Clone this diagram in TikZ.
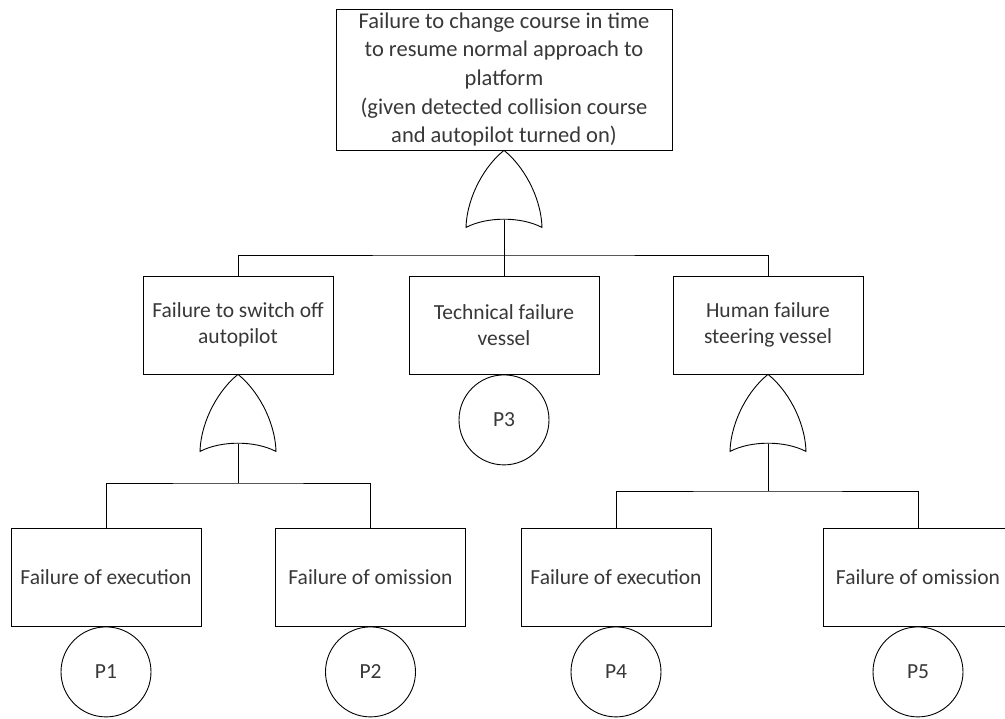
\documentclass[tikz,border=0pt]{standalone}
\usepackage{fontspec}
\setmainfont{Carlito}
\begin{document}
\begin{tikzpicture}[x=1pt,y=-1pt,
  line width=0.9pt,
  box/.style={draw, minimum width=190pt, minimum height=98pt, inner sep=0pt, align=center,
    font=\fontsize{21.5}{26.5}\selectfont, text=black!78},
  ev/.style={draw, circle, minimum size=90pt, inner sep=0pt, anchor=north,
    font=\fontsize{21.5}{24}\selectfont, text=black!78},
  orgate/.pic={
    \draw (-38,77) .. controls (-37,45) and (-18,14) .. (0,0)
                   .. controls (18,14) and (37,45) .. (38,77)
                   .. controls (17,66) and (-17,66) .. cycle;
    \coordinate (-out) at (0,69.5);
  }]
\useasboundingbox (0,0) rectangle (1005,719);
\fill[white] (0,0) rectangle (1005,719);

\node[box, minimum width=336pt, minimum height=141pt, font=\fontsize{22.5}{28.7}\selectfont] (top) at (504,79.5)
  {Failure to change course in time\\to resume normal approach to\\platform\\(given detected collision course\\and autopilot turned on)};

\node[box] (b2) at (238,325) {Failure to switch off\\autopilot};
\node[box] (b3) at (504,325) {Technical failure\\vessel};
\node[box] (b4) at (768,325) {Human failure\\steering vessel};

\node[box] (b5) at (106,577) {Failure of execution};
\node[box] (b6) at (370.5,577) {Failure of omission};
\node[box] (b7) at (616,577) {Failure of execution};
\node[box] (b8) at (918,577) {Failure of omission};

\node[ev] (c3) at (b3.south) {P3};
\node[ev] (c1) at (b5.south) {P1};
\node[ev] (c2) at (b6.south) {P2};
\node[ev] (c4) at (b7.south) {P4};
\node[ev] (c5) at (b8.south) {P5};

\pic (g1) at (top.south) {orgate};
\pic (g2) at (b2.south) {orgate};
\pic (g3) at (b4.south) {orgate};

\coordinate (j1) at (504,255);
\coordinate (j2) at (238,483);
\coordinate (j3) at (768,491);

\draw (g1-out) -- (j1);
\draw (b2.north) |- (j1) -| (b4.north);
\draw (j1) -- (b3.north);

\draw (g2-out) -- (j2);
\draw (b5.north) |- (j2) -| (b6.north);

\draw (g3-out) -- (j3);
\draw (b7.north) |- (j3) -| (b8.north);
\end{tikzpicture}
\end{document}
